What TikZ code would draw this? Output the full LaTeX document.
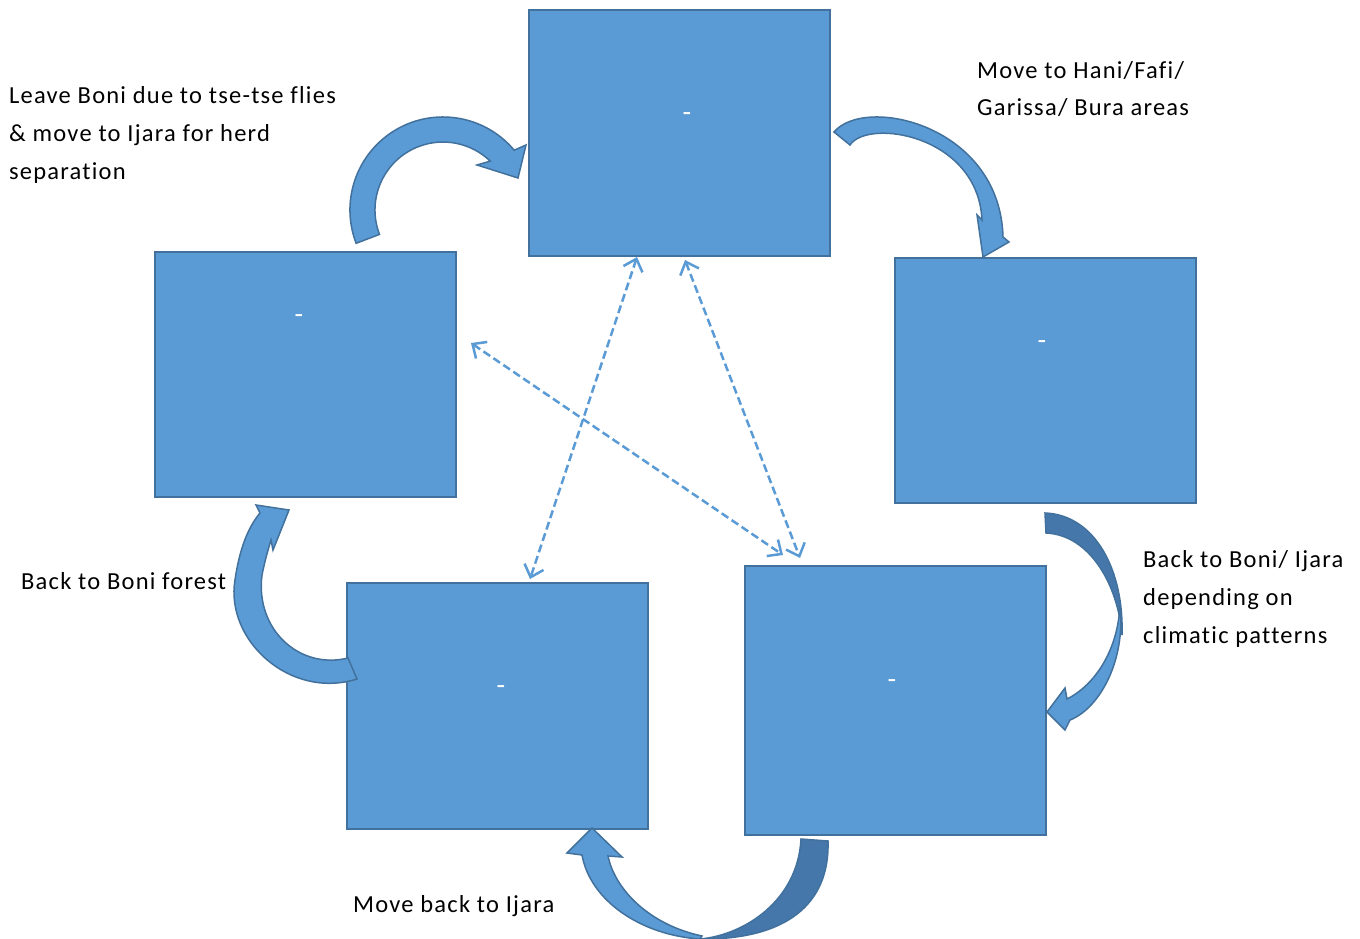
\documentclass[tikz,border=0pt]{standalone}
\usepackage{fontspec}
\setmainfont{Carlito}[LetterSpace=5.0,Ligatures=NoCommon]
\usetikzlibrary{arrows.meta}
\definecolor{boxfill}{HTML}{5B9BD5}
\definecolor{boxline}{HTML}{41719C}
\definecolor{darkarc}{HTML}{4677AB}
\begin{document}
\begin{tikzpicture}[x=1pt,y=-1pt,
  box/.style={draw=boxline, fill=boxfill, line width=2pt, minimum width=301pt, inner sep=0pt},
  dashlbl/.style={text=white, font=\fontsize{28}{30}\selectfont, inner sep=0pt},
  lbl/.style={align=left, inner sep=0pt, font=\fontsize{24.5}{37.7}\selectfont},
  link/.style={draw=boxfill, line width=2.5pt, dash pattern=on 8pt off 4pt,
    arrows={Straight Barb[length=11pt,width=20pt]-Straight Barb[length=11pt,width=20pt]}},
  arcarrow/.style={fill=boxfill, draw=boxline, line width=1.5pt, line join=miter},
  arcdark/.style={fill=darkarc, draw=boxline, line width=1.5pt, line join=miter}]
\useasboundingbox (0,0) rectangle (1360,939);
\fill[white] (0,0) rectangle (1360,939);

% boxes
\node[box, minimum height=246pt] (top) at (679.5,133) {};
\node[box, minimum height=245pt] (left) at (305.5,374.5) {};
\node[box, minimum height=245pt] (right) at (1045.5,380.5) {};
\node[box, minimum height=246pt] (bl) at (497.5,706) {};
\node[box, minimum height=269pt] (br) at (895.5,700.5) {};

\node[dashlbl] (dtop) at (687,117) {-};
\node[dashlbl] (dleft) at (299,319) {-};
\node[dashlbl] (dright) at (1042,345) {-};
\node[dashlbl] (dbl) at (501,690) {-};
\node[dashlbl] (dbr) at (892,684) {-};

% dashed two-way links
\coordinate (a1) at (637,257); \coordinate (a2) at (530,579);
\coordinate (b1) at (685,260); \coordinate (b2) at (800,558);
\coordinate (c1) at (471,343); \coordinate (c2) at (783,555);
\draw[link] (a1) -- (a2);
\draw[link] (b1) -- (b2);
\draw[link] (c1) -- (c2);

% curved arrow: left box -> top box
\path[arcarrow] (379.5,234.4) arc[start angle=159, end angle=314, radius=68]
  -- (477,165) -- (518,178) -- (526,145) -- (514.2,150.2)
  arc[start angle=320, end angle=159, radius=93] -- cycle;

% curved arrow: top box -> right box
\path[arcarrow] (834,132) .. controls (865,95) and (1000,125) .. (1003,237)
  -- (1009,242) -- (983,257) -- (977,215) -- (982,220)
  .. controls (978,135) and (868,118) .. (850,145) -- cycle;

% curved arrow: right box -> bottom-right box
\path[arcdark] (1045,513) .. controls (1095,515) and (1124,570) .. (1122,635)
  .. controls (1118,585) and (1090,535) .. (1046,533) -- cycle;
\path[arcarrow] (1120,605) .. controls (1126,660) and (1100,708) .. (1070,720)
  -- (1065,730) -- (1047,712) -- (1065,688) -- (1067,699)
  .. controls (1095,685) and (1118,650) .. (1120,605) -- cycle;

% curved arrow: bottom-right box -> bottom-left box
\path[arcdark] (801,839) -- (828,841) .. controls (830,905) and (785,940) .. (700,939)
  .. controls (745,935) and (798,900) .. (801,839) -- cycle;
\path[arcarrow] (700,939) .. controls (640,935) and (590,900) .. (582,855)
  -- (567,853) -- (592,828) -- (622,857) -- (608,856)
  .. controls (615,890) and (650,925) .. (702,936) -- cycle;

% curved arrow: bottom-left box -> left box
\path[arcarrow] (357,679) .. controls (290,700) and (225,640) .. (235,580)
  .. controls (240,545) and (250,525) .. (260,513)
  -- (256,505) -- (289,510) -- (273,550) -- (271,540)
  .. controls (268,550) and (265,560) .. (262,575)
  .. controls (255,630) and (300,670) .. (348,658) -- cycle;

% labels (base anchor = baseline of the last line)
\node[lbl, anchor=base west] (t1) at (9,179) {Leave Boni due to tse-tse flies\\\& move to Ijara for herd\\separation};
\node[lbl, anchor=base west] (t2) at (977,116) {Move to Hani/Fafi/\\Garissa/ Bura areas};
\node[lbl, anchor=base west] (t3) at (1143,643) {Back to Boni/ Ijara\\depending on\\climatic patterns};
\node[lbl, anchor=base west] (t4) at (21,589) {Back to Boni forest};
\node[lbl, anchor=base west] (t5) at (353,912) {Move back to Ijara};
\end{tikzpicture}
\end{document}
